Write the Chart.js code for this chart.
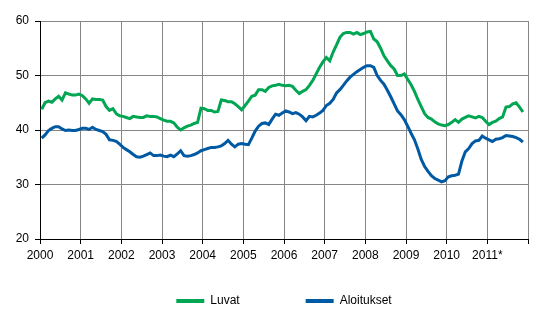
<!DOCTYPE html>
<html>
<head>
<meta charset="utf-8">
<script src="https://cdn.jsdelivr.net/npm/chart.js@4"></script>
<style>
  body { margin: 0; background: #fff; }
</style>
</head>
<body>
<canvas id="myChart" width="553" height="322"></canvas>
<script>
// tick labels under each year (last one closes the axis at 2012)
let yearLabels = ['2000','2001','2002','2003','2004','2005','2006','2007','2008','2009','2010','2011*',''];

// monthly values, Jan 2000 - Nov 2011
let luvat = [
    43.8,45.0,45.3,45.1,45.7,46.2,45.5,46.8,46.6,46.4,46.4,46.6,
    46.3,45.7,44.9,45.7,45.6,45.6,45.5,44.3,43.6,43.9,43.0,42.6,
    42.5,42.3,42.1,42.5,42.4,42.3,42.3,42.6,42.5,42.5,42.4,42.1,
    41.8,41.6,41.6,41.3,40.5,40.0,40.4,40.7,40.9,41.2,41.4,44.0,
    43.9,43.6,43.6,43.3,43.4,45.5,45.4,45.2,45.2,44.8,44.3,43.7,
    44.5,45.3,46.2,46.4,47.4,47.4,47.1,47.8,48.1,48.2,48.4,48.2,
    48.1,48.2,48.0,47.3,46.7,47.1,47.4,48.2,49.1,50.3,51.5,52.5,
    53.3,52.7,54.3,55.6,57.0,57.7,57.9,57.9,57.6,57.9,57.5,57.7,
    58.0,58.1,56.7,56.2,55.0,53.6,52.7,51.8,51.2,50.0,50.0,50.3,
    49.3,48.3,47.1,45.6,44.3,43.0,42.3,42.0,41.5,41.1,40.9,40.8,
    41.0,41.4,41.9,41.4,42.0,42.3,42.6,42.4,42.2,42.5,42.3,41.6,
    41.0,41.4,41.6,42.1,42.4,44.2,44.3,44.8,45.0,44.2,43.3
];
let aloitukset = [
    38.5,39.1,39.9,40.3,40.6,40.6,40.2,39.9,40.0,39.9,39.9,40.1,
    40.3,40.3,40.1,40.5,40.1,39.9,39.7,39.2,38.2,38.1,37.9,37.4,
    36.8,36.4,36.0,35.5,35.1,35.0,35.2,35.5,35.8,35.3,35.3,35.4,
    35.2,35.1,35.4,35.1,35.6,36.2,35.3,35.2,35.3,35.5,35.8,36.2,
    36.4,36.6,36.8,36.8,36.9,37.1,37.5,38.1,37.4,36.9,37.4,37.5,
    37.4,37.3,38.5,39.8,40.7,41.2,41.3,41.0,42.0,42.9,42.7,43.1,
    43.5,43.3,43.0,43.2,42.9,42.4,41.7,42.5,42.4,42.7,43.1,43.6,
    44.5,44.9,45.6,46.8,47.4,48.2,49.0,49.7,50.2,50.7,51.1,51.5,
    51.8,51.8,51.5,50.0,49.1,48.4,47.3,46.1,44.8,43.5,42.8,41.9,
    40.7,39.4,38.2,36.5,34.6,33.3,32.4,31.6,31.1,30.8,30.5,30.7,
    31.4,31.6,31.7,31.9,34.3,36.0,36.6,37.5,38.0,38.1,38.9,38.5,
    38.2,37.9,38.3,38.4,38.6,39.0,38.9,38.8,38.6,38.3,37.8
];

let green = '#00A651';
let blue = '#0059A3';
let gridGrey = '#868686';

// month i sits in the middle of its slot on the axis
function points(values) {
    return values.map((v, i) => ({ x: i + 0.5, y: v }));
}

Chart.defaults.font.family = "'Liberation Sans', Arial, sans-serif";
Chart.defaults.font.size = 12;
Chart.defaults.color = '#000';

let myChart = document.getElementById('myChart').getContext('2d');

let lineChart = new Chart(myChart, {
    type: 'line',
    data: {
        datasets: [{
            label: 'Luvat',
            data: points(luvat),
            borderColor: green,
            backgroundColor: green,
            borderWidth: 3,
            pointRadius: 0,
            tension: 0
        }, {
            label: 'Aloitukset',
            data: points(aloitukset),
            borderColor: blue,
            backgroundColor: blue,
            borderWidth: 3,
            pointRadius: 0,
            tension: 0
        }]
    },
    options: {
        responsive: false,
        animation: false,
        layout: {
            padding: { top: 21, right: 25, bottom: 5, left: 0 }
        },
        scales: {
            x: {
                type: 'linear',
                min: 0,
                max: 144,
                afterFit: (axis) => { axis.height = 40; },
                ticks: {
                    stepSize: 12,
                    autoSkip: false,
                    maxRotation: 0,
                    padding: 4,
                    callback: (value) => yearLabels[value / 12]
                },
                grid: { color: gridGrey, tickColor: '#000', tickLength: 5 },
                border: { color: '#000' }
            },
            y: {
                min: 20,
                max: 60,
                afterFit: (axis) => { axis.width = 40; },
                ticks: { stepSize: 10, padding: 6 },
                grid: { color: gridGrey, tickColor: '#000', tickLength: 5 },
                border: { color: '#000' }
            }
        },
        plugins: {
            legend: {
                position: 'bottom',
                fullSize: false,
                labels: {
                    boxWidth: 28,
                    boxHeight: 4,
                    padding: 16,
                    // empty item in the middle keeps the two entries apart
                    generateLabels: (chart) => {
                        let items = chart.data.datasets.map((ds, i) => ({
                            text: ds.label,
                            fillStyle: ds.borderColor,
                            strokeStyle: ds.borderColor,
                            lineWidth: 0,
                            hidden: false,
                            datasetIndex: i
                        }));
                        items.splice(1, 0, {
                            text: '',
                            fillStyle: 'rgba(0,0,0,0)',
                            strokeStyle: 'rgba(0,0,0,0)',
                            lineWidth: 0,
                            hidden: false
                        });
                        return items;
                    }
                }
            },
            tooltip: { enabled: false }
        }
    }
});
</script>
</body>
</html>
